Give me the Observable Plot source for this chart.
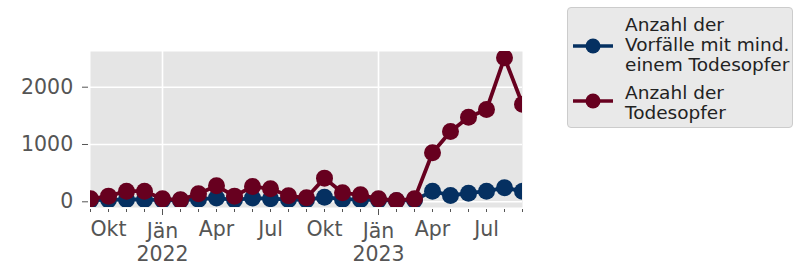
<!DOCTYPE html>
<html><head><meta charset="utf-8">
<script src="https://cdn.jsdelivr.net/npm/d3@7"></script>
<script src="https://cdn.jsdelivr.net/npm/@observablehq/plot@0.6"></script>
<style>
body{margin:0;background:#fff;font-family:"DejaVu Sans",sans-serif;}
#wrap{position:relative;width:801px;height:267px;overflow:hidden;}
#legend{position:absolute;left:567px;top:7px;width:226px;height:121px;box-sizing:border-box;background:#e9e9e9;border:1px solid #cccccc;border-radius:4px;}
.lt{position:absolute;left:625px;font-size:18.5px;line-height:20px;color:#222;white-space:pre;}
.lh{position:absolute;left:571px;}
</style></head><body><div id="wrap"><div id="legend"></div></div>
<script>
// Data
const months = ["2021-09","2021-10","2021-11","2021-12","2022-01","2022-02","2022-03","2022-04","2022-05","2022-06","2022-07","2022-08","2022-09","2022-10","2022-11","2022-12","2023-01","2023-02","2023-03","2023-04","2023-05","2023-06","2023-07","2023-08","2023-09"];
const incidents = [30, 35, 40, 40, 30, 25, 45, 65, 35, 65, 55, 40, 35, 80, 45, 40, 30, 20, 30, 186, 110, 151, 186, 244, 186];
const deaths = [52, 99, 186, 186, 52, 35, 140, 279, 99, 267, 227, 105, 70, 413, 157, 122, 52, 23, 52, 855, 1227, 1477, 1610, 2512, 1703];
const seriesNames = ["Anzahl der\nVorfälle mit mind.\neinem Todesopfer", "Anzahl der\nTodesopfer"];
const seriesColors = ["#053061", "#67001f"];
const yTicks = [0, 1000, 2000];
const monthLabels = {"01": "Jän", "04": "Apr", "07": "Jul", "10": "Okt"};

const idx = months.map((m, i) => i);
const blueRows = months.map((m, i) => ({i, v: incidents[i]}));
const redRows = months.map((m, i) => ({i, v: deaths[i]}));
const majors = idx.filter(i => months[i].slice(5) === "01");
const minorLabeled = idx.filter(i => ["04", "07", "10"].includes(months[i].slice(5)));
const fmt = i => {
  const [y, mm] = months[i].split("-");
  return mm === "01" ? monthLabels[mm] + "\n" + y : monthLabels[mm];
};

const chart = Plot.plot({
  width: 801, height: 267,
  marginLeft: 90, marginRight: 279, marginTop: 51, marginBottom: 60,
  style: {fontFamily: "DejaVu Sans", fontSize: "20.5px", color: "#555", background: "transparent", overflow: "visible"},
  x: {type: "linear", domain: [0, months.length - 1]},
  y: {domain: [-99.5, 2623]},
  marks: [
    Plot.frame({fill: "#e5e5e5", stroke: "none"}),
    Plot.gridY(yTicks, {stroke: "#fff", strokeOpacity: 1, strokeWidth: 1.6}),
    Plot.gridX(majors, {stroke: "#fff", strokeOpacity: 1, strokeWidth: 1.6}),
    Plot.axisY(yTicks, {tickSize: 6, dx: -2, tickPadding: 9.3, tickFormat: d => String(d), label: null}),
    Plot.axisX(idx, {tickSize: 3, dy: 2, tickFormat: () => "", label: null}),
    Plot.axisX(majors, {tickSize: 6, dy: 2, tickFormat: () => "", label: null}),
    Plot.axisX(minorLabeled, {tickSize: 0, tickPadding: 13.5, tickFormat: fmt, label: null}),
    Plot.axisX(majors, {tickSize: 0, tickPadding: 14.5, tickFormat: fmt, label: null, lineHeight: 1.1}),
    Plot.line(blueRows, {x: "i", y: "v", stroke: seriesColors[0], strokeWidth: 3.8, clip: true}),
    Plot.dot(blueRows, {x: "i", y: "v", fill: seriesColors[0], r: 8.5, clip: true}),
    Plot.line(redRows, {x: "i", y: "v", stroke: seriesColors[1], strokeWidth: 3.8, clip: true}),
    Plot.dot(redRows, {x: "i", y: "v", fill: seriesColors[1], r: 8.5, clip: true})
  ]
});
const wrap = document.getElementById("wrap");
chart.style.position = "absolute";
chart.style.left = "0px";
chart.style.top = "0px";
wrap.insertBefore(chart, wrap.firstChild);

// Legend
const textTops = [15.3, 82.6];
const handleYs = [46, 101];
seriesNames.forEach((name, k) => {
  const t = document.createElement("div");
  t.className = "lt";
  t.style.top = textTops[k] + "px";
  t.textContent = name;
  wrap.appendChild(t);
  const svg = d3.create("svg").attr("class", "lh").attr("width", 46).attr("height", 20)
    .style("top", (handleYs[k] - 10) + "px");
  svg.append("line").attr("x1", 2).attr("x2", 42).attr("y1", 10).attr("y2", 10)
    .attr("stroke", seriesColors[k]).attr("stroke-width", 3.6);
  svg.append("circle").attr("cx", 22).attr("cy", 10).attr("r", 7.5).attr("fill", seriesColors[k]);
  wrap.appendChild(svg.node());
});
</script>
</body></html>
